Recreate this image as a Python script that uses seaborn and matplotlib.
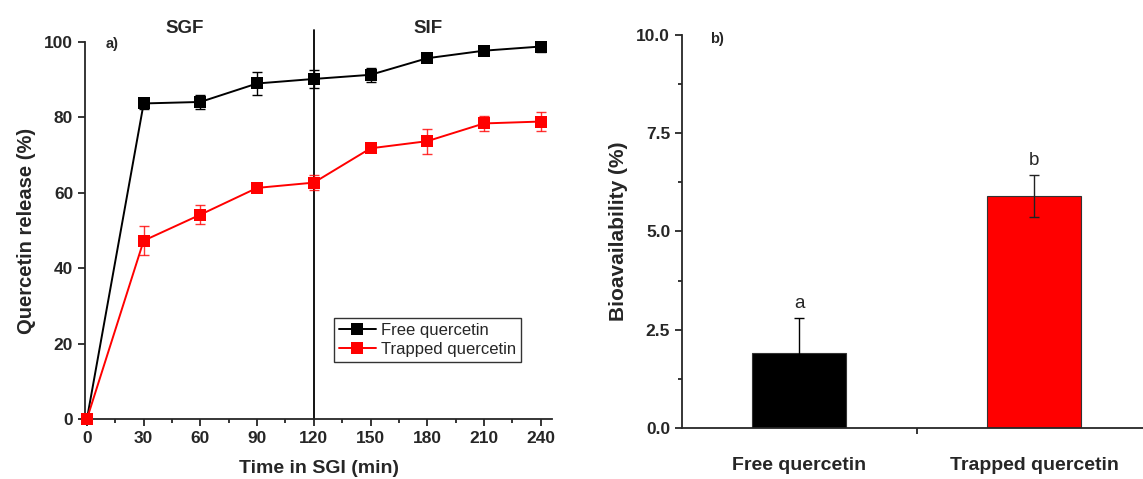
import numpy as np
import pandas as pd
import matplotlib
matplotlib.use("Agg")
import matplotlib.pyplot as plt
from matplotlib.ticker import MultipleLocator, FixedLocator
import seaborn as sns

# ---- data ----
time_min = [0, 30, 60, 90, 120, 150, 180, 210, 240]
free_release = [0, 83.7, 84.1, 89.0, 90.2, 91.3, 95.7, 97.7, 98.8]
free_err = [0, 1.5, 1.8, 3.0, 2.5, 1.8, 1.0, 1.0, 1.5]
trapped_release = [0, 47.3, 54.2, 61.3, 62.7, 71.8, 73.7, 78.4, 78.9]
trapped_err = [0, 3.8, 2.5, 0.8, 2.0, 0.8, 3.3, 2.0, 2.5]

bio_categories = ["Free quercetin", "Trapped quercetin"]
bio_values = [1.92, 5.91]
bio_err = [0.89, 0.53]
bio_letters = ["a", "b"]

colors = {"Free quercetin": "#000000", "Trapped quercetin": "#ff0000"}
err_colors = {"Free quercetin": "#000000", "Trapped quercetin": "#222222"}

sns.set_style("ticks")
plt.rcParams["font.family"] = ["Liberation Sans", "DejaVu Sans"]
plt.rcParams["axes.linewidth"] = 1.3

fig = plt.figure(figsize=(11.43, 4.79), dpi=100)
ax1 = fig.add_axes([0.0744, 0.1253, 0.4086, 0.787])
ax2 = fig.add_axes([0.5967, 0.1065, 0.4033, 0.8205])

# ---- panel a ----
df = pd.DataFrame({
    "time": time_min * 2,
    "release": free_release + trapped_release,
    "err": free_err + trapped_err,
    "series": ["Free quercetin"] * len(time_min) + ["Trapped quercetin"] * len(time_min),
})
sns.lineplot(data=df, x="time", y="release", hue="series", palette=colors,
             marker="s", markersize=8, markeredgewidth=0, linewidth=1.4,
             ax=ax1, legend=True, clip_on=False, zorder=3)
for name, g in df.groupby("series"):
    ax1.errorbar(g["time"], g["release"], yerr=g["err"], fmt="none",
                 ecolor=colors[name], elinewidth=1.0, capsize=3.5, capthick=1.0,
                 alpha=0.8 if name == "Trapped quercetin" else 1.0, zorder=2)

ax1.axvline(120, ymin=0, ymax=1.032, color="black", linewidth=1.3, clip_on=False, zorder=1)
ax1.set_xlim(-1, 246)
ax1.set_ylim(0, 100)
ax1.set_xticks(time_min)
ax1.xaxis.set_minor_locator(MultipleLocator(15))
ax1.set_yticks([0, 20, 40, 60, 80, 100])
sns.despine(ax=ax1)
ax1.tick_params(axis="both", which="major", direction="out", length=5, width=1.3,
                labelsize=12.5)
ax1.tick_params(axis="x", which="minor", direction="out", length=3, width=1.3)
for lab in ax1.get_xticklabels() + ax1.get_yticklabels():
    lab.set_fontweight("bold")
ax1.set_xlabel("Time in SGI (min)", fontsize=14, fontweight="bold", labelpad=10)
ax1.set_ylabel("Quercetin release (%)", fontsize=14.5, fontweight="bold", labelpad=6)
ax1.text(0.214, 1.037, "SGF", transform=ax1.transAxes, ha="center", va="center",
         fontsize=13.5, fontweight="bold")
ax1.text(0.734, 1.037, "SIF", transform=ax1.transAxes, ha="center", va="center",
         fontsize=13.5, fontweight="bold")
ax1.text(0.045, 0.995, "a)", transform=ax1.transAxes, ha="left", va="center",
         fontsize=10.5, fontweight="bold")
leg = ax1.legend(loc="lower left", bbox_to_anchor=(0.515, 0.13), frameon=True,
                 fancybox=False, edgecolor="black", fontsize=12, handlelength=2.2,
                 handletextpad=0.3, borderpad=0.3, labelspacing=0.2, title=None)
leg.get_frame().set_linewidth(1.0)

# ---- panel b ----
bdf = pd.DataFrame({"cat": bio_categories, "val": bio_values, "err": bio_err})
sns.barplot(data=bdf, x="cat", y="val", hue="cat", palette=colors, width=0.404,
            saturation=1, edgecolor="#333333", linewidth=0.8, ax=ax2, legend=False,
            errorbar=None)
for i, (v, e, c) in enumerate(zip(bio_values, bio_err, bio_categories)):
    ax2.errorbar([i], [v], yerr=[e], fmt="none", ecolor=err_colors[c],
                 elinewidth=1.0, capsize=3.5, capthick=1.0, zorder=3)
for i, (v, e, t) in enumerate(zip(bio_values, bio_err, bio_letters)):
    ax2.annotate(t, (i, v + e), xytext=(0, 4), textcoords="offset points",
                 ha="center", va="bottom", fontsize=13.5)
ax2.set_xlim(-0.498, 1.464)
ax2.set_ylim(0, 10)
ax2.set_yticks([0, 2.5, 5.0, 7.5, 10.0])
ax2.set_yticklabels(["0.0", "2.5", "5.0", "7.5", "10.0"])
ax2.yaxis.set_minor_locator(MultipleLocator(1.25))
ax2.xaxis.set_minor_locator(FixedLocator([0.5]))
sns.despine(ax=ax2)
ax2.tick_params(axis="y", which="major", direction="out", length=5, width=1.3, labelsize=12.5)
ax2.tick_params(axis="y", which="minor", direction="out", length=3, width=1.3)
ax2.tick_params(axis="x", which="major", length=0, labelsize=14, pad=21)
ax2.tick_params(axis="x", which="minor", direction="out", length=4, width=1.3)
for lab in ax2.get_xticklabels() + ax2.get_yticklabels():
    lab.set_fontweight("bold")
ax2.set_xlabel("")
ax2.set_ylabel("Bioavailability (%)", fontsize=15, fontweight="bold", labelpad=6)
ax2.text(0.06, 0.99, "b)", transform=ax2.transAxes, ha="left", va="center",
         fontsize=10.5, fontweight="bold")

fig.savefig("out.png", dpi=100)
